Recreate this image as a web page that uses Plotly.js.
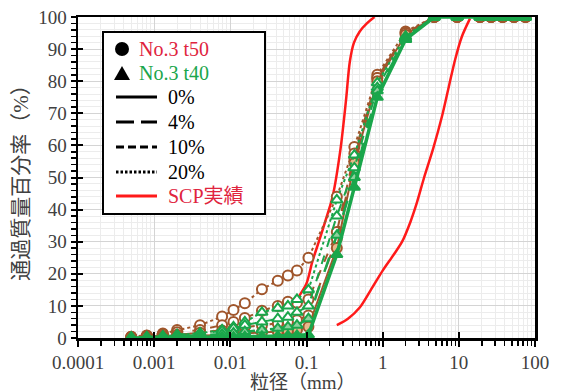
<!DOCTYPE html>
<html>
<head>
<meta charset="utf-8">
<script src="https://cdn.plot.ly/plotly-3.0.1.min.js"></script>
<style>html,body{margin:0;padding:0;background:#fff;}#chart{width:563px;height:392px;}</style>
</head>
<body>
<div id="chart"></div>
<script>
// Particle sizes (mm)
const sieveX = [75, 53, 37.5, 26.5, 19, 9.5, 4.75, 2, 0.85, 0.425, 0.25, 0.106, 0.075];
const hydroX = [0.057, 0.042, 0.026, 0.0155, 0.011, 0.0078, 0.004, 0.002, 0.0013, 0.0008, 0.0005];

// No.3 t50 (circles) passing percentages
const t50_0  = [100,100,100,100,100,100,100, 94.5, 80.0, 54.5, 28, 3.5, 2.5,  2.2, 2.0, 1.8, 1.5, 1.2, 1.0, 0.7, 0.5, 0.3, 0.2, 0.1];
const t50_4  = [100,100,100,100,100,100,100, 95.0, 81.0, 56.0, 31, 7.0, 5.5,  5.0, 4.6, 4.0, 3.4, 2.8, 2.3, 1.6, 1.0, 0.7, 0.4, 0.2];
const t50_10 = [100,100,100,100,100,100,100, 95.0, 81.0, 57.5, 33, 12.0, 11.0, 11.3, 10.0, 8.5, 6.2, 5.0, 4.0, 2.5, 1.8, 1.2, 0.7, 0.4];
const t50_20 = [100,100,100,100,100,100,100, 95.5, 82.0, 59.5, 44, 25.0, 21.0, 19.5, 17.8, 15.2, 10.8, 8.7, 6.7, 4.0, 2.5, 1.4, 0.8, 0.4];

// No.3 t40 (triangles) passing percentages
const t40_0  = [100,100,100,100,100,100,100, 93.0, 75.0, 47.0, 26, 1.0, 0.8,  0.7, 0.6, 0.5, 0.4, 0.3, 0.3, 0.2, 0.1, 0.1, 0.0, 0.0];
const t40_4  = [100,100,100,100,100,100,100, 93.0, 77.0, 50.0, 32, 6.0, 4.0,  3.5, 3.0, 2.5, 2.0, 1.6, 1.2, 0.8, 0.5, 0.3, 0.2, 0.1];
const t40_10 = [100,100,100,100,100,100,100, 93.5, 78.0, 53.0, 38, 10.0, 8.0, 6.5, 6.0, 5.0, 4.0, 3.0, 2.2, 1.5, 1.0, 0.6, 0.3, 0.2];
const t40_20 = [100,100,100,100,100,100,100, 94.0, 79.5, 57.0, 43, 15.0, 12.0, 10.0, 9.3, 8.0, 5.0, 3.5, 2.5, 1.5, 1.0, 0.5, 0.3, 0.2];

// SCP actual range (two boundary curves)
const scpFineX = [0.065, 0.08, 0.1, 0.12, 0.15, 0.18, 0.22, 0.28, 0.33, 0.37, 0.42, 0.5, 0.62, 0.78];
const scpFineY = [9, 13, 17, 24, 31, 37, 44, 59, 74, 86, 92, 95.5, 98, 100];
const scpCoarseX = [0.25, 0.35, 0.5, 0.7, 1.0, 1.4, 1.8, 2.3, 2.8, 3.5, 4.6, 6, 7.5, 9, 11, 14];
const scpCoarseY = [4, 6, 9.5, 15, 21, 26, 30, 36, 42, 50, 59, 69, 79, 87, 94, 99.5];

const xTickVals = [0.0001, 0.001, 0.01, 0.1, 1, 10, 100];
const xTickText = ['0.0001', '0.001', '0.01', '0.1', '1', '10', '100'];

// Texts
const xTitle = '粒径（mm）';
const yTitle = '通過質量百分率（%）';
const legendSeries = ['No.3 t50', 'No.3 t40'];
const legendAdditive = ['0%', '4%', '10%', '20%'];
const legendRange = 'SCP実績';

const allX = sieveX.concat(hydroX);
const BROWN = '#a0562c', GREEN = '#1aa64b', RED = '#ff1a1a', LABEL_RED = '#e0243e';

function series(y, color, dash, width, symbol, fill, size) {
  return {x: allX, y: y, type: 'scatter', mode: 'lines+markers', showlegend: false,
    line: {color: color, dash: dash, width: width},
    marker: {symbol: symbol, size: size, color: fill, line: {color: color, width: 2}}};
}

const data = [
  {x: scpFineX, y: scpFineY, type: 'scatter', mode: 'lines', showlegend: false, line: {color: RED, width: 2.5, shape: 'spline', smoothing: 0.8}},
  {x: scpCoarseX, y: scpCoarseY, type: 'scatter', mode: 'lines', showlegend: false, line: {color: RED, width: 2.5, shape: 'spline', smoothing: 0.8}},
  series(t50_20, BROWN, 'dot', 2, 'circle', '#ffffff', 10),
  series(t50_10, BROWN, 'dash', 2, 'circle', '#ffffff', 10),
  series(t50_4, BROWN, 'longdash', 2, 'circle', '#ffffff', 10),
  series(t50_0, BROWN, 'solid', 2, 'circle', '#e9b98c', 10),
  series(t40_20, GREEN, 'dot', 2, 'triangle-up', '#ffffff', 10),
  series(t40_10, GREEN, 'dash', 2, 'triangle-up', '#ffffff', 10),
  series(t40_4, GREEN, 'longdash', 2.5, 'triangle-up', '#8fd19e', 10),
  series(t40_0, GREEN, 'solid', 3.5, 'triangle-up', GREEN, 10),
  {x: [null], y: [null], xaxis: 'x2', yaxis: 'y', showlegend: false, type: 'scatter'},
  {x: [null], y: [null], xaxis: 'x', yaxis: 'y2', showlegend: false, type: 'scatter'}
];

// ---- manual legend (pixel positions -> paper coords) ----
const PL = 78, PR = 535, PT = 17, PB = 338;
const px = X => (X - PL) / (PR - PL);
const py = Y => (PB - Y) / (PB - PT);
const FONT = '"Liberation Serif", "Noto Sans CJK JP", serif';
const rowY = [49, 73, 97, 122, 147, 172, 196];
const shapes = [
  {type: 'rect', xref: 'paper', yref: 'paper', x0: px(103), x1: px(265), y0: py(214), y1: py(32),
   line: {color: '#000', width: 2}, fillcolor: '#fff', layer: 'above'},
  {type: 'circle', xref: 'paper', yref: 'paper', x0: px(115), x1: px(129), y0: py(rowY[0] + 7), y1: py(rowY[0] - 7),
   line: {color: '#000', width: 0}, fillcolor: '#000', layer: 'above'},
  {type: 'path', xref: 'paper', yref: 'paper',
   path: `M ${px(114)} ${py(rowY[1] + 7)} L ${px(130)} ${py(rowY[1] + 7)} L ${px(122)} ${py(rowY[1] - 7)} Z`,
   line: {color: '#000', width: 0}, fillcolor: '#000', layer: 'above'}
];
const sampleDash = ['solid', '18px,7px', '8px,4px', '2.5px,2px'];
legendAdditive.forEach((t, i) => {
  const yy = py(rowY[2 + i]);
  shapes.push({type: 'line', xref: 'paper', yref: 'paper', x0: px(116), x1: px(157), y0: yy, y1: yy,
    line: {color: '#000', width: 3, dash: sampleDash[i]}, layer: 'above'});
});
shapes.push({type: 'line', xref: 'paper', yref: 'paper', x0: px(116), x1: px(157), y0: py(rowY[6]), y1: py(rowY[6]),
  line: {color: RED, width: 3}, layer: 'above'});

const annotations = [];
legendSeries.forEach((t, i) => {
  annotations.push({xref: 'paper', yref: 'paper', x: px(137), y: py(rowY[i]), xanchor: 'left', yanchor: 'middle', showarrow: false,
    text: t, font: {family: FONT, size: 20, color: i === 0 ? LABEL_RED : GREEN}});
});
legendAdditive.forEach((t, i) => {
  annotations.push({xref: 'paper', yref: 'paper', x: px(166), y: py(rowY[2 + i]), xanchor: 'left', yanchor: 'middle', showarrow: false,
    text: t, font: {family: FONT, size: 20, color: '#000'}});
});
annotations.push({xref: 'paper', yref: 'paper', x: px(166), y: py(rowY[6]), xanchor: 'left', yanchor: 'middle', showarrow: false,
  text: legendRange, font: {family: FONT, size: 20, color: LABEL_RED}});
// x-axis title placed as annotation just below the tick labels
annotations.push({xref: 'paper', yref: 'paper', x: px(303), y: py(383), xanchor: 'center', yanchor: 'middle', showarrow: false,
  text: xTitle, font: {family: FONT, size: 19, color: '#404040'}});

const layout = {
  width: 563, height: 392,
  margin: {l: PL, r: 563 - PR, t: PT, b: 392 - PB},
  paper_bgcolor: '#fff', plot_bgcolor: '#fff',
  font: {family: FONT, size: 18, color: '#404040'},
  showlegend: false,
  shapes: shapes,
  annotations: annotations,
  xaxis: {type: 'log', range: [-4, 2], tickmode: 'array', tickvals: xTickVals, ticktext: xTickText,
    ticks: 'outside', ticklen: 6, tickwidth: 2, tickcolor: '#000',
    showline: true, linecolor: '#000', linewidth: 2.5, mirror: true,
    showgrid: true, gridcolor: '#d4d4d4', gridwidth: 1, zeroline: false,
    minor: {dtick: 'D1', ticks: 'outside', ticklen: 5, tickwidth: 1.5, tickcolor: '#000', showgrid: true, gridcolor: '#ececec', gridwidth: 1},
    tickfont: {family: FONT, size: 19, color: '#404040'}},
  xaxis2: {type: 'log', range: [-4, 2], overlaying: 'x', anchor: 'y', side: 'bottom', tickmode: 'array', tickvals: xTickVals,
    ticks: 'inside', ticklen: 6, tickwidth: 2, tickcolor: '#000', showticklabels: false, showgrid: false, showline: false, zeroline: false},
  yaxis: {range: [0, 100], dtick: 10, ticks: 'outside', ticklen: 5, tickwidth: 2, tickcolor: '#000',
    showline: true, linecolor: '#000', linewidth: 2.5, mirror: true,
    showgrid: true, gridcolor: '#d4d4d4', gridwidth: 1, zeroline: false,
    minor: {dtick: 2, ticks: 'outside', ticklen: 5, tickwidth: 1.5, tickcolor: '#000', showgrid: true, gridcolor: '#ececec', gridwidth: 1},
    title: {text: yTitle, font: {family: FONT, size: 21, color: '#404040'}, standoff: 4},
    tickfont: {family: FONT, size: 19, color: '#404040'}},
  yaxis2: {range: [0, 100], overlaying: 'y', anchor: 'x', side: 'left', dtick: 10,
    ticks: 'inside', ticklen: 5, tickwidth: 2, tickcolor: '#000', showticklabels: false, showgrid: false, showline: false, zeroline: false}
};

Plotly.newPlot('chart', data, layout, {staticPlot: true, displayModeBar: false});
</script>
</body>
</html>
